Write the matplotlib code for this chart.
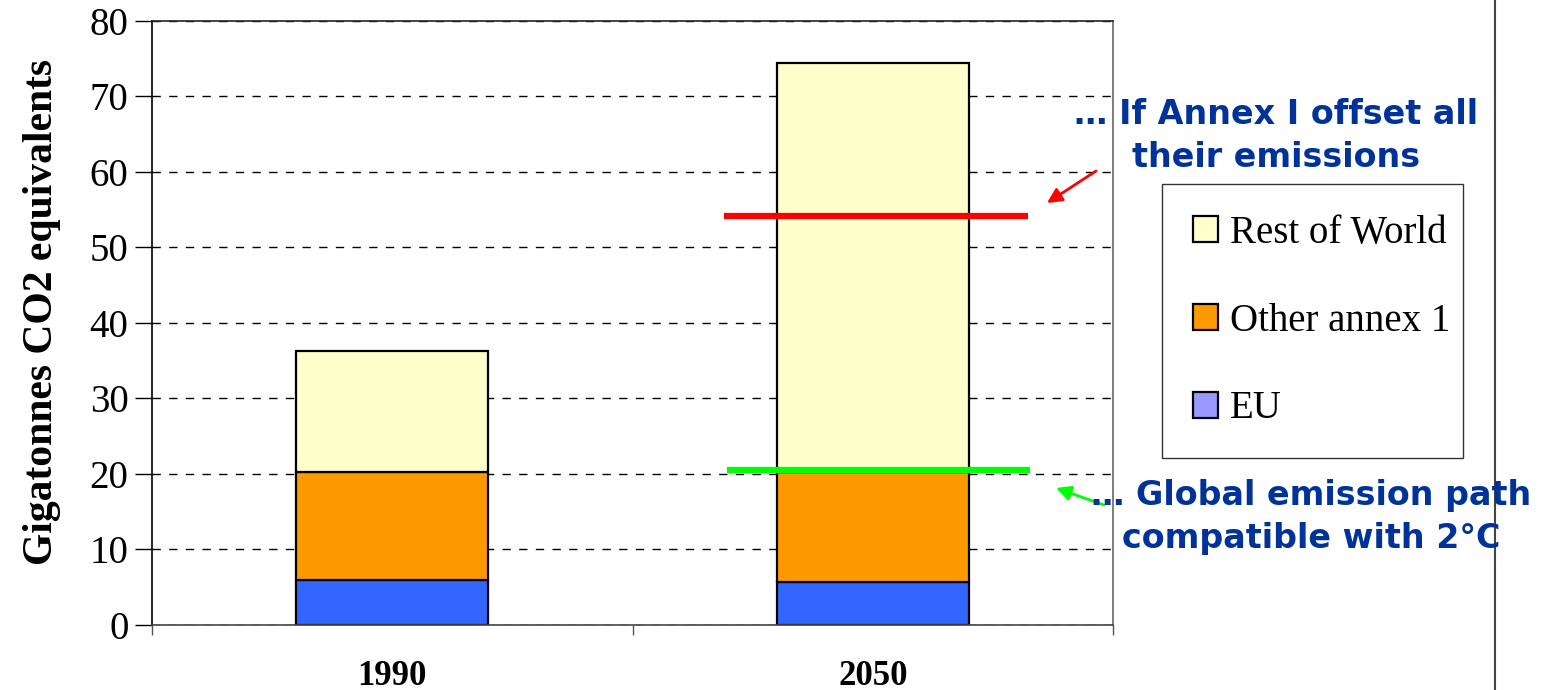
import matplotlib.pyplot as plt
from matplotlib.patches import Patch
from matplotlib.lines import Line2D

years = ["1990", "2050"]
eu = [6.0, 5.7]
other_annex1 = [14.3, 14.5]
rest_of_world = [16.0, 54.2]
path_2c = 20.5

series_names = ["Rest of World", "Other annex 1", "EU"]
bar_colors = ["#FFFFCC", "#FF9900", "#3366FF"]
legend_colors = ["#FFFFCC", "#FF9900", "#9999FF"]
note_color = "#003399"

fig = plt.figure(figsize=(15.42, 6.9), dpi=100)
ax = fig.add_axes([0.0986, 0.0942, 0.6232, 0.8754])

x = list(range(len(years)))
annex1 = [a + b for a, b in zip(eu, other_annex1)]
totals = [a + r for a, r in zip(annex1, rest_of_world)]

ax.bar(x, eu, width=0.4, color=bar_colors[2], edgecolor="black", linewidth=1.6, zorder=2)
ax.bar(x, other_annex1, width=0.4, bottom=eu, color=bar_colors[1],
       edgecolor="black", linewidth=1.6, zorder=2)
ax.bar(x, rest_of_world, width=0.4, bottom=annex1, color=bar_colors[0],
       edgecolor="black", linewidth=1.6, zorder=2)

# emissions left if Annex I offsets everything, and the 2 degree path
offset_level = totals[1] - annex1[1]
ax.plot([0.69, 1.323], [offset_level, offset_level], color="#FF0000", lw=4.5,
        solid_capstyle="butt", zorder=3)
ax.plot([0.697, 1.327], [path_2c, path_2c], color="#00FF00", lw=4.5,
        solid_capstyle="butt", zorder=3)

ax.set_xlim(-0.5, 1.5)
ax.set_ylim(0, 80)
ax.set_yticks(range(0, 81, 10))
ax.set_xticks(x)
ax.set_xticklabels(years, fontfamily="Liberation Serif", fontsize=25, fontweight="bold")
ax.set_xticks([-0.5, 0.5, 1.5], minor=True)
ax.tick_params(axis="x", which="major", length=0, pad=25)
ax.tick_params(axis="x", which="minor", length=7, width=1, color="#555555")
ax.tick_params(axis="y", length=12, width=1, pad=5, labelsize=28)
for lab in ax.get_yticklabels():
    lab.set_fontfamily("Liberation Serif")

ax.grid(axis="y", color="black", linestyle=(0, (6, 6)), linewidth=1)
ax.set_axisbelow(True)
ax.spines["left"].set_color("black")
ax.spines["bottom"].set_color("#444444")
ax.spines["top"].set_color("#222222")
ax.spines["right"].set_color("#666666")
for s in ax.spines.values():
    s.set_linewidth(1.2)

fig.text(42 / 1542, 1 - 312 / 690, "Gigatonnes CO2 equivalents", rotation=90,
         ha="center", va="center", fontfamily="Liberation Serif",
         fontweight="bold", fontsize=30)

handles = [Patch(facecolor=c, edgecolor="black", linewidth=1.6) for c in legend_colors]
leg = ax.legend(handles, series_names, loc="upper left",
                bbox_to_anchor=(1162 / 1542, 1 - 184 / 690 - 0.01, 301 / 1542, 0.01),
                bbox_transform=fig.transFigure, mode="expand",
                prop={"family": "Liberation Serif", "size": 28},
                frameon=True, fancybox=False, edgecolor="black",
                handlelength=0.65, handleheight=0.65, handletextpad=0.3,
                labelspacing=1.3, borderpad=0.8, borderaxespad=0)
leg.get_frame().set_linewidth(1)

fig.text(1276 / 1542, 1 - 136 / 690, "… If Annex I offset all\ntheir emissions",
         ha="center", va="center", color=note_color, fontweight="bold",
         fontsize=24, fontfamily="DejaVu Sans", linespacing=1.38)
fig.text(1311 / 1542, 1 - 517 / 690, "… Global emission path\ncompatible with 2°C",
         ha="center", va="center", color=note_color, fontweight="bold",
         fontsize=24, fontfamily="DejaVu Sans", linespacing=1.38)

ax.annotate("", xy=(1047 / 1542, 1 - 203 / 690), xytext=(1096 / 1542, 1 - 171 / 690),
            xycoords="figure fraction", textcoords="figure fraction",
            arrowprops=dict(arrowstyle="-|>", color="#FF0000", lw=2,
                            mutation_scale=22, shrinkA=0, shrinkB=0))
ax.annotate("", xy=(1056 / 1542, 1 - 488 / 690), xytext=(1104 / 1542, 1 - 505 / 690),
            xycoords="figure fraction", textcoords="figure fraction",
            arrowprops=dict(arrowstyle="-|>", color="#00FF00", lw=2,
                            mutation_scale=22, shrinkA=0, shrinkB=0))

fig.add_artist(Line2D([1495 / 1542, 1495 / 1542], [0, 1], transform=fig.transFigure,
                      color="#444444", lw=1.5))

fig.savefig("out.png", dpi=100)
